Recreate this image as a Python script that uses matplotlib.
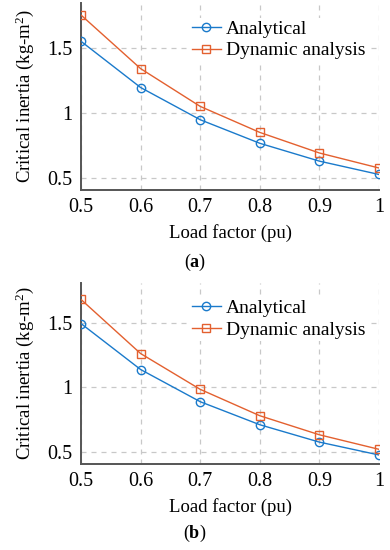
#!/usr/bin/env python3
import matplotlib
matplotlib.use("Agg")
import matplotlib.pyplot as plt

# ---------------------------------------------------
# Data
# ---------------------------------------------------
load_factor = [0.5, 0.6, 0.7, 0.8, 0.9, 1.0]

analytical_a = [1.554, 1.197, 0.948, 0.766, 0.628, 0.525]
dynamic_a = [1.757, 1.343, 1.051, 0.850, 0.691, 0.575]

analytical_b = [1.495, 1.138, 0.888, 0.709, 0.574, 0.474]
dynamic_b = [1.682, 1.262, 0.984, 0.779, 0.631, 0.518]

x_ticks = [0.5, 0.6, 0.7, 0.8, 0.9, 1.0]
x_tick_labels = ["0.5", "0.6", "0.7", "0.8", "0.9", "1"]
y_ticks = [0.5, 1.0, 1.5]
y_tick_labels = ["0.5", "1", "1.5"]

BLUE = "#1a7acb"
ORANGE = "#e3602f"
FS = 14


def draw_panel(ax, analytical, dynamic, ylim):
    ax.plot(load_factor, analytical, color=BLUE, lw=1.0, marker="o",
            ms=6, mfc="none", mew=1.0, label="Analytical", zorder=3)
    ax.plot(load_factor, dynamic, color=ORANGE, lw=1.0, marker="s",
            ms=6, mfc="none", mew=1.0, label="Dynamic analysis", zorder=3)

    ax.set_xlim(0.5, 1.0)
    ax.set_ylim(*ylim)
    ax.set_xticks(x_ticks)
    ax.set_xticklabels(x_tick_labels)
    ax.set_yticks(y_ticks)
    ax.set_yticklabels(y_tick_labels)
    ax.tick_params(length=0, labelsize=14.5, pad=6)

    ax.grid(True, ls=(0, (4, 4)), color="#c8c8c8", lw=0.9)
    for side in ("top", "right"):
        ax.spines[side].set_visible(False)
    for side in ("left", "bottom"):
        ax.spines[side].set_color("#555555")
        ax.spines[side].set_linewidth(1.4)
    ax.set_axisbelow(True)

    ax.set_xlabel("Load factor (pu)", fontsize=13.5, labelpad=5)
    ax.set_ylabel("Critical inertia (kg-m$^2$)", fontsize=13.5, labelpad=8)

    leg = ax.legend(loc="upper right", bbox_to_anchor=(0.96, 0.92),
                    fontsize=FS, handlelength=1.5, handletextpad=0.25,
                    labelspacing=0.22, borderpad=0.1, frameon=True,
                    fancybox=False, borderaxespad=0.0)
    leg.get_frame().set_edgecolor("none")
    leg.get_frame().set_facecolor("white")
    leg.get_frame().set_alpha(1.0)


def main():
    plt.rcParams["font.family"] = ["Liberation Serif", "DejaVu Serif"]
    plt.rcParams["mathtext.fontset"] = "custom"
    plt.rcParams["mathtext.rm"] = "Liberation Serif"
    plt.rcParams["mathtext.it"] = "Liberation Serif:italic"
    plt.rcParams["mathtext.bf"] = "Liberation Serif:bold"

    fig = plt.figure(figsize=(3.9, 5.5), dpi=100)

    # panel (a)
    ax_a = fig.add_axes([0.2077, 360 / 550, 0.7641, 187 / 550])
    draw_panel(ax_a, analytical_a, dynamic_a, (0.405, 1.85))
    fig.text(0.5, 1 - 262 / 550, r"($\mathbf{a}$)", ha="center",
             va="center", fontsize=13)

    # panel (b)
    ax_b = fig.add_axes([0.2077, 86 / 550, 0.7641, 181 / 550])
    draw_panel(ax_b, analytical_b, dynamic_b, (0.404, 1.81))
    fig.text(0.5, 1 - 533 / 550, r"($\mathbf{b}$)", ha="center",
             va="center", fontsize=13)

    fig.savefig("out.png", dpi=100)
    plt.close(fig)


if __name__ == "__main__":
    main()
